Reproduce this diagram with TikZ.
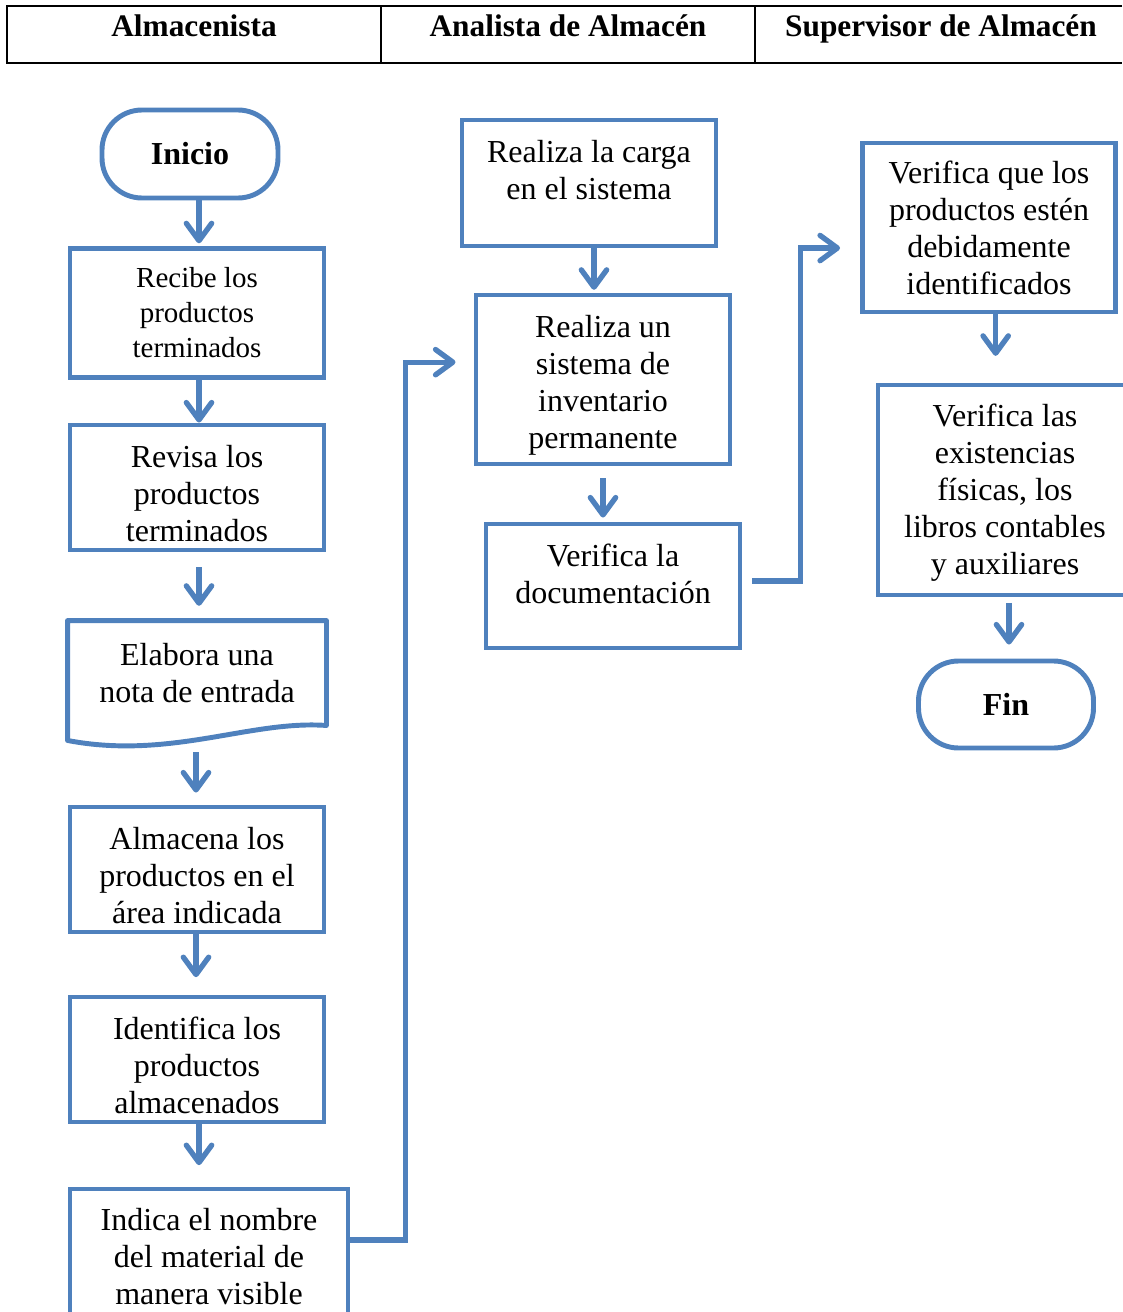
\documentclass[tikz,border=0pt]{standalone}
\usepackage{fontspec}
\setmainfont{Liberation Serif}
\usetikzlibrary{arrows.meta}
\definecolor{flowblue}{HTML}{4F81BD}
\newcommand{\lowstrut}{\rule{0pt}{25pt}}
\begin{document}
\begin{tikzpicture}[x=0.75pt,y=-0.75pt,
  box/.style={draw=flowblue,line width=3.7pt,fill=white,align=center,inner sep=2pt,
    font=\fontsize{24}{27.75}\selectfont},
  boxl/.style={box,minimum width=190.5pt},
  term/.style={draw=flowblue,line width=3.7pt,rounded corners=30pt,
    font=\fontsize{24}{27.75}\selectfont\bfseries},
  arr/.style={draw=flowblue,line width=4pt,
    -{Straight Barb[length=13pt,width=19pt,line width=4pt,round]}},
  conn/.style={arr,line join=miter},
  head/.style={font=\fontsize{23.5}{27}\selectfont\bfseries,anchor=base}
]
\useasboundingbox (0,0) rectangle (1122,1312);

% header
\draw[black,line width=1.6pt] (1122,6) -- (7,6) -- (7,63) -- (1122,63);
\draw[black,line width=1.6pt] (381,6) -- (381,63) (755,6) -- (755,63);
\node[head] (h1) at (194,37) {Almacenista};
\node[head] (h2) at (568,37) {Analista de Almacén};
\node[head] (h3) at (941,37) {Supervisor de Almacén};

% column 1
\node[term,minimum width=132pt,minimum height=66pt] (inicio) at (190,154) {Inicio};
\node[boxl,minimum height=96.75pt,font=\fontsize{21.75}{26.25}\selectfont] (recibe) at (197,313) {Recibe los\\productos\\terminados};
\node[boxl,minimum height=93.75pt] (revisa) at (197,487.5) {\lowstrut Revisa los\\productos\\terminados};
\node[boxl,draw=none,fill=none,minimum height=75pt] (elab) at (197,673) {Elabora una\\nota de entrada};
\draw[flowblue,line width=3.7pt,line join=round]
  ([yshift=-15*0.75pt]elab.south west) -- (elab.north west) -- (elab.north east) -- (elab.south east)
  .. controls (250,720) and (170,760) .. ([yshift=-15*0.75pt]elab.south west) -- cycle;
\node[boxl,minimum height=93.75pt] (almacena) at (197,869.5) {\lowstrut Almacena los\\productos en el\\área indicada};
\node[boxl,minimum height=93.75pt] (identifica) at (197,1059.5) {\lowstrut Identifica los\\productos\\almacenados};
\node[box,minimum width=208.5pt,minimum height=109.5pt,text depth=9pt] (indica) at (209,1262) {Indica el nombre\\del material de\\manera visible};

% column 2
\node[boxl,minimum height=94.5pt,text depth=19.5pt] (carga) at (589,183) {Realiza la carga\\en el sistema};
\node[boxl,minimum height=126.75pt] (realiza) at (603,379.5) {\lowstrut Realiza un\\sistema de\\inventario\\permanente};
\node[boxl,minimum height=93pt,text depth=18pt] (docu) at (613,586) {Verifica la\\documentación};

% column 3
\node[box,minimum width=189.75pt,minimum height=126.75pt] (verque) at (989,227.5) {Verifica que los\\productos estén\\debidamente\\identificados};
\node[boxl,minimum height=157.5pt,text depth=0.8pt] (verlas) at (1005,490) {Verifica las\\existencias\\físicas, los\\libros contables\\y auxiliares};
\node[term,minimum width=131.25pt,minimum height=65.25pt] (fin) at (1006,704.5) {Fin};

% arrows column 1
\draw[arr,shorten >=2pt] ([xshift=1.5pt]recibe.north |- inicio.south) -- ([xshift=1.5pt]recibe.north);
\draw[arr] ([xshift=1.5pt]recibe.south) -- ([xshift=1.5pt]revisa.north);
\draw[arr,shorten <=11pt,shorten >=11pt] ([xshift=1.5pt]revisa.south) -- ([xshift=1.5pt]elab.north);
\draw[arr,shorten <=20pt,shorten >=9pt] ([xshift=-0.75pt]elab.south) -- ([xshift=-0.75pt]almacena.north);
\draw[arr,shorten >=13pt] ([xshift=-0.75pt]almacena.south) -- ([xshift=-0.75pt]identifica.north);
\draw[arr,shorten >=16pt] ([xshift=1.5pt]identifica.south) -- ([xshift=1.5pt]identifica.south |- indica.north);

% cross connectors
\draw[conn,shorten >=13.5pt] ([yshift=16.5pt]indica.east) -- ++(55,0) |- ([yshift=13pt]realiza.west);
\draw[conn,shorten <=7.5pt,shorten >=15pt] ([yshift=3.75pt]docu.east) -- ++(58,0) |- ([yshift=-15.4pt]verque.west);

% arrows column 2
\draw[arr,shorten >=2pt] ([xshift=3.75pt]carga.south) -- ([xshift=3.75pt]carga.south |- realiza.north);
\draw[arr,shorten <=9pt,shorten >=3pt] (realiza.south) -- (realiza.south |- docu.north);

% arrows column 3
\draw[arr,shorten >=20pt] ([xshift=5pt]verque.south) -- ([xshift=5pt]verque.south |- verlas.north);
\draw[arr,shorten <=4pt,shorten >=10.5pt] ([xshift=3pt]verlas.south) -- ([xshift=3pt]verlas.south |- fin.north);
\end{tikzpicture}
\end{document}
